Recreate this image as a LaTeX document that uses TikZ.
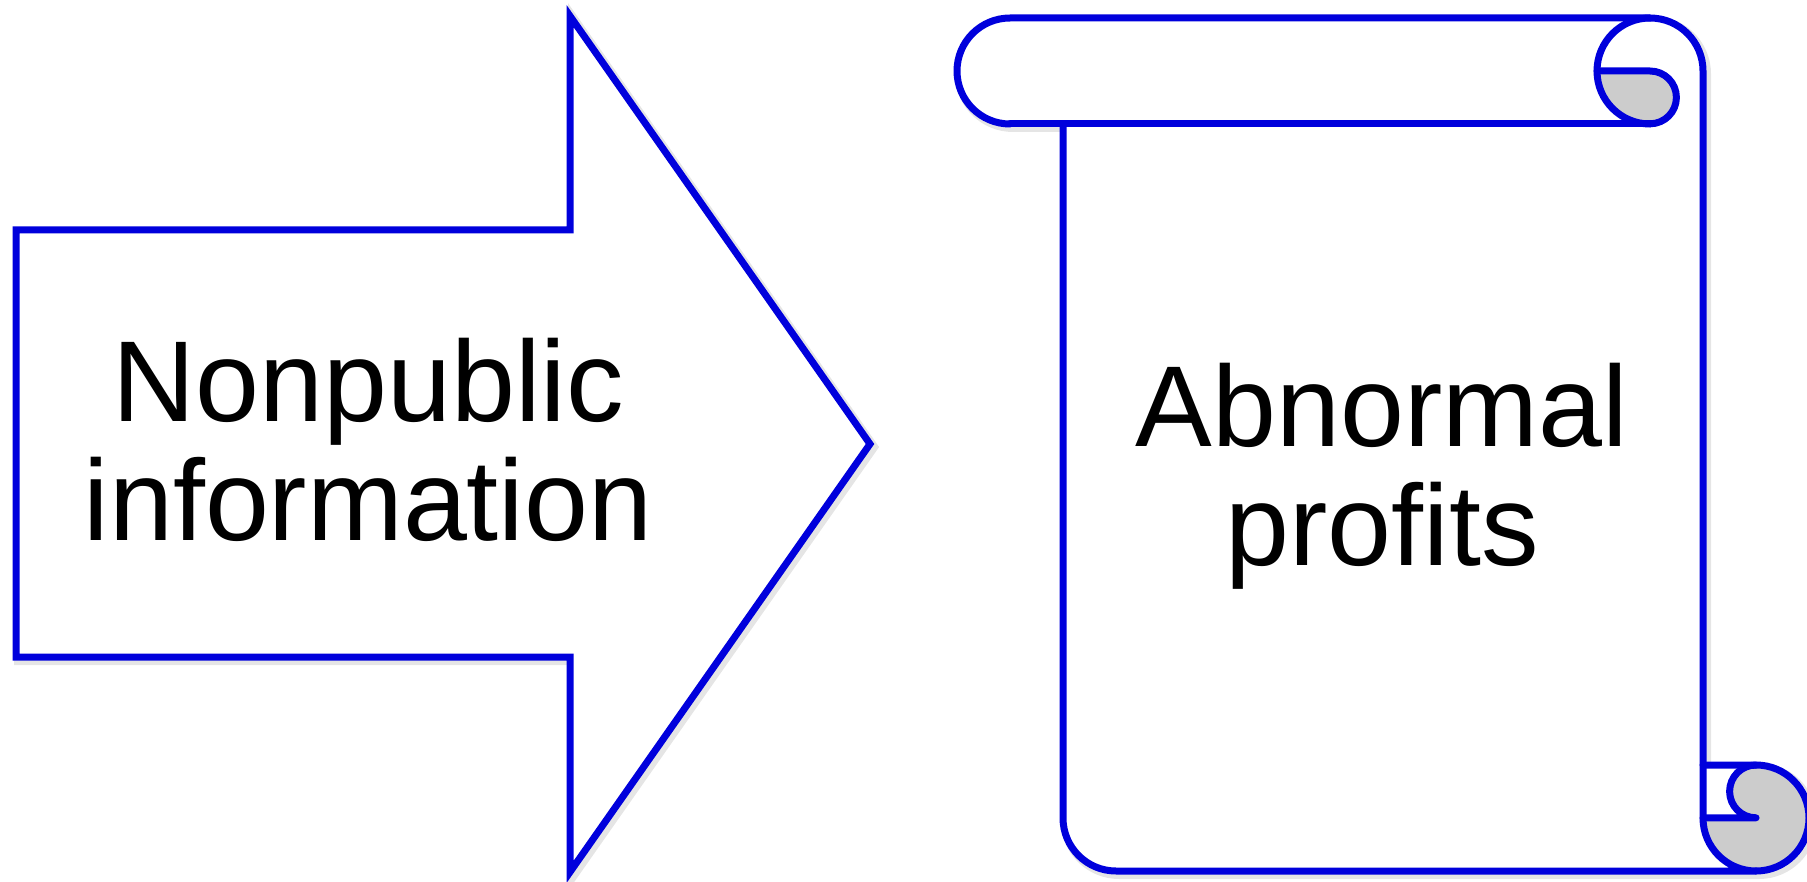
\documentclass[tikz,border=0pt]{standalone}
\usepackage{fontspec}
\setmainfont{Liberation Sans}
\definecolor{edgeblue}{RGB}{0,0,220}
\definecolor{curlgray}{RGB}{204,204,204}
\begin{document}
\begin{tikzpicture}[x=1pt,y=-1pt,
  outline/.style={draw=edgeblue,line width=7pt},
  softshadow/.style={draw=black,draw opacity=0.10,line width=10pt,shift={(3,3)}},
  bigtext/.style={font=\fontsize{115}{119}\selectfont,anchor=base,inner sep=0pt}]
\useasboundingbox (0,0) rectangle (1807,882);
\clip (0,0) rectangle (1807,882);

% ---------- block arrow ----------
\path[softshadow,line join=miter]
  (16,230) -- (570,230) -- (570,16) -- (870,444) -- (570,872) -- (570,657) -- (16,657) -- cycle;
\draw[outline,fill=white,line join=miter]
  (16,230) -- (570,230) -- (570,16) -- (870,444) -- (570,872) -- (570,657) -- (16,657) -- cycle;

% ---------- scroll ----------
% silhouette (shadow + white paper)
\path[softshadow,line join=round]
  (1010,124) arc[start angle=90,end angle=270,radius=53]
  -- (1650,18) arc[start angle=270,end angle=360,radius=53]
  -- (1703,765) -- (1756,765) arc[start angle=270,end angle=450,radius=53]
  -- (1116,871) arc[start angle=90,end angle=180,radius=53]
  -- (1063,124) -- cycle;
\fill[white]
  (1010,124) arc[start angle=90,end angle=270,radius=53]
  -- (1650,18) arc[start angle=270,end angle=360,radius=53]
  -- (1703,765) -- (1756,765) arc[start angle=270,end angle=450,radius=53]
  -- (1116,871) arc[start angle=90,end angle=180,radius=53]
  -- (1063,124) -- cycle;

% grey undersides of the two curls
\fill[curlgray]
  (1597,71) -- (1650,71) arc[start angle=270,end angle=450,radius=26.4]
  arc[start angle=90,end angle=180,radius=53] -- cycle;
\fill[curlgray]
  (1756,765) arc[start angle=270,end angle=450,radius=53]
  arc[start angle=90,end angle=180,radius=53]
  -- (1756,818) arc[start angle=90,end angle=270,radius=26.4] -- cycle;

% outer outline of roll and sheet
\draw[outline,line join=round,line cap=round]
  (1010,124) arc[start angle=90,end angle=270,radius=53]
  -- (1650,18) arc[start angle=270,end angle=360,radius=53]
  -- (1703,818) arc[start angle=180,end angle=90,radius=53]
  -- (1116,871) arc[start angle=90,end angle=180,radius=53]
  -- (1063,124);
% lower edge of the top roll
\draw[outline,line cap=round] (1010,124) -- (1650,124);
% top curl
\draw[outline,line cap=round]
  (1650,18) arc[start angle=270,end angle=90,radius=53];
\draw[outline,line cap=round,line join=round]
  (1597,71) -- (1650,71) arc[start angle=270,end angle=450,radius=26.4];
% bottom curl
\draw[outline,line cap=round,line join=round]
  (1756,871) arc[start angle=90,end angle=-90,radius=53] -- (1703,765);
\draw[outline,line cap=round,line join=round]
  (1756,765) arc[start angle=270,end angle=90,radius=26.4] -- (1703,818);

% ---------- texts ----------
\node[bigtext] (srcA) at (368,421) {Nonpublic};
\node[bigtext] (srcB) at (368,540) {information};
\node[bigtext] (dstA) at (1382,446) {Abnormal};
\node[bigtext] (dstB) at (1382,565) {profits};
\end{tikzpicture}
\end{document}
